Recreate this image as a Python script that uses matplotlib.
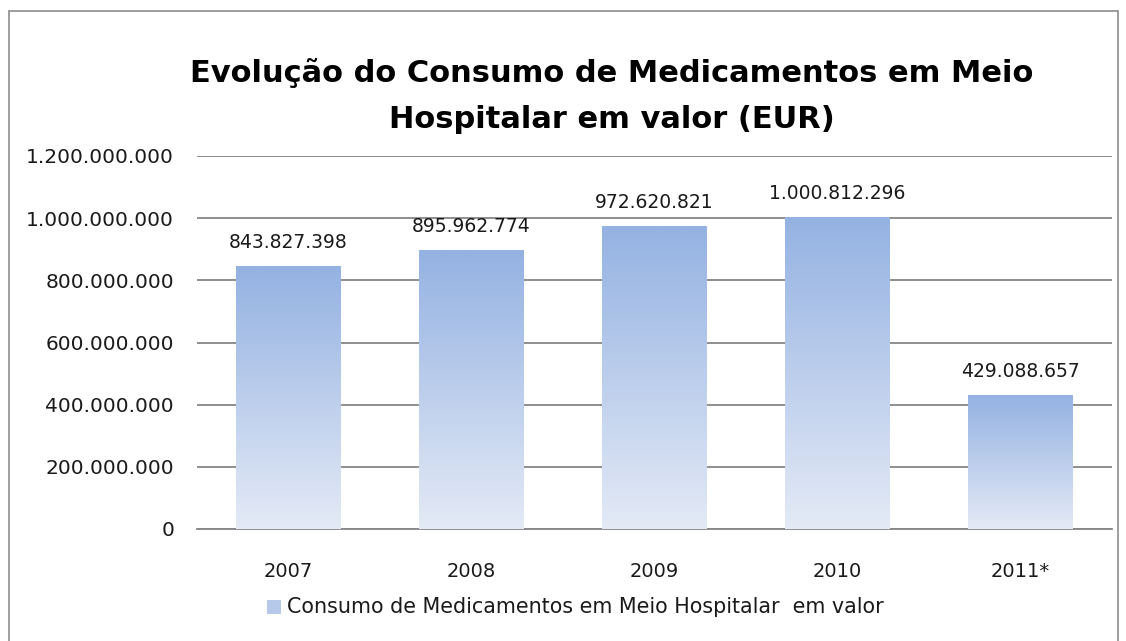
import numpy as np
import matplotlib.pyplot as plt
from matplotlib.patches import Rectangle
from matplotlib.colors import LinearSegmentedColormap

years = ['2007', '2008', '2009', '2010', '2011*']
values = [843827398, 895962774, 972620821, 1000812296, 429088657]
title = 'Evolução do Consumo de Medicamentos em Meio\nHospitalar em valor (EUR)'
series_name = 'Consumo de Medicamentos em Meio Hospitalar  em valor'

def fmt(v):
    return f'{v:,.0f}'.replace(',', '.')

plt.rcParams['font.family'] = ['DejaVu Sans']

W, H = 1126, 641
fig = plt.figure(figsize=(W / 100, H / 100), dpi=100)
fig.patch.set_facecolor('white')

# chart frame
fig.add_artist(Rectangle((9 / W, -0.01), (1118 - 9) / W, 1 - 11 / H + 0.01,
                         transform=fig.transFigure, fill=False,
                         ec='#8c8c8c', lw=1.2))

ax = fig.add_axes([197 / W, 1 - 529 / H, (1112 - 197) / W, (529 - 156) / H])
x = np.arange(len(years))
bw = 0.57
cmap = LinearSegmentedColormap.from_list('g', ['#e4eaf6', '#94b2e2'])
grad = np.linspace(0, 1, 256).reshape(-1, 1)
for xi, v in zip(x, values):
    ax.imshow(grad, cmap=cmap, aspect='auto', origin='lower',
              extent=(xi - bw / 2, xi + bw / 2, 0, v), zorder=3)
    ax.text(xi, v + 48e6, fmt(v), ha='center', va='bottom',
            fontsize=13.5, color='#1a1a1a', zorder=4)

ax.set_xlim(-0.5, len(years) - 0.5)
ax.set_ylim(0, 1.2e9)
ax.set_yticks(np.arange(0, 1.2e9 + 1, 2e8))
ax.set_yticklabels([fmt(t) for t in ax.get_yticks()])
ax.set_xticks(x)
ax.set_xticklabels(years)
ax.tick_params(length=0, labelsize=14.5, colors='#1a1a1a')
ax.tick_params(axis='x', labelsize=14, pad=24)
ax.tick_params(axis='y', pad=16.5)
ax.yaxis.grid(True, color='#868686', lw=1.3, zorder=0)
ax.set_axisbelow(True)
for s in ['top', 'right', 'left']:
    ax.spines[s].set_visible(False)
ax.spines['bottom'].set_color('#868686')
ax.spines['bottom'].set_linewidth(1.3)

fig.text(612 / W, 1 - 96 / H, title, ha='center', va='center',
         fontsize=22, fontweight='bold', color='black', linespacing=1.75)

# legend
fig.add_artist(Rectangle((267 / W, 1 - 614 / H), 14 / W, 14 / H,
                         transform=fig.transFigure, fc='#b7c9ea', ec='none'))
fig.text(287 / W, 1 - 607 / H, series_name, ha='left', va='center',
         fontsize=14.9, color='#1a1a1a')

fig.savefig('out.png', dpi=100, facecolor='white')
